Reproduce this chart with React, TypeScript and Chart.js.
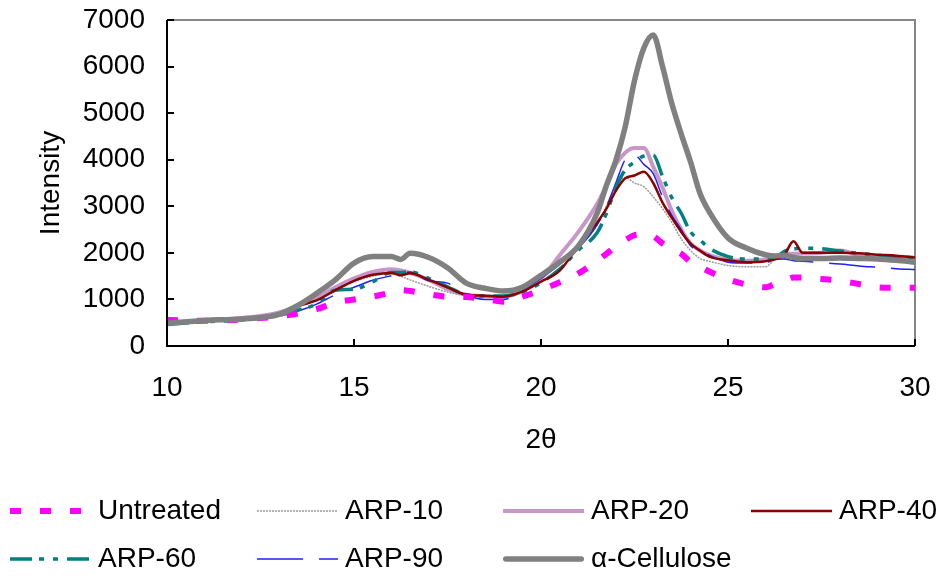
import React, { useEffect, useRef } from "react";
import { Chart, registerables } from "chart.js";

Chart.register(...registerables);

const twoTheta = [10, 11, 12, 13, 13.5, 14, 14.5, 15, 15.5, 16, 16.25, 16.5, 17, 17.5, 18, 18.5, 19, 19.5, 20, 20.5, 21, 21.5, 21.75, 22, 22.25, 22.5, 22.75, 23, 23.25, 23.5, 23.75, 24, 24.25, 24.5, 25, 25.5, 26, 26.25, 26.5, 26.75, 27, 27.5, 28, 28.5, 29, 29.5, 30];

const untreated = [560, 540, 570, 640, 700, 790, 930, 1000, 1060, 1150, 1200, 1180, 1110, 1060, 1050, 1010, 950, 1060, 1200, 1370, 1560, 1830, 1980, 2140, 2270, 2380, 2400, 2360, 2200, 2080, 1980, 1800, 1700, 1600, 1430, 1320, 1260, 1330, 1390, 1470, 1470, 1440, 1400, 1330, 1260, 1250, 1250];
const arp10 = [480, 540, 580, 690, 850, 980, 1180, 1380, 1500, 1560, 1500, 1420, 1280, 1160, 1080, 1060, 1050, 1150, 1380, 1650, 2100, 2600, 3000, 3400, 3620, 3500, 3420, 3200, 2950, 2650, 2300, 2050, 1880, 1820, 1730, 1700, 1700, 1850, 1880, 1880, 1900, 1900, 1920, 1920, 1900, 1890, 1880];
const arp20 = [480, 550, 600, 720, 870, 1030, 1260, 1450, 1590, 1650, 1620, 1570, 1420, 1220, 1100, 1070, 1060, 1180, 1450, 1950, 2450, 3050, 3450, 3900, 4150, 4250, 4250, 3850, 3400, 2900, 2500, 2200, 2050, 1950, 1850, 1830, 1860, 1900, 1980, 1980, 1990, 2000, 2050, 1950, 1900, 1900, 1900];
const arp40 = [480, 540, 580, 700, 860, 980, 1200, 1400, 1530, 1570, 1520, 1560, 1420, 1260, 1100, 1080, 1060, 1170, 1380, 1620, 2150, 2650, 2950, 3330, 3600, 3660, 3740, 3500, 3080, 2750, 2450, 2200, 2050, 1920, 1840, 1800, 1820, 1860, 1950, 2250, 2000, 2000, 2000, 1990, 1960, 1940, 1900];
const arp60 = [460, 520, 560, 660, 770, 900, 1200, 1220, 1380, 1580, 1580, 1590, 1450, 1270, 1100, 1075, 1075, 1160, 1360, 1650, 2060, 2430, 2850, 3400, 3780, 3950, 4080, 4100, 3640, 3180, 2850, 2450, 2280, 2100, 1920, 1870, 1870, 1890, 2030, 2080, 2100, 2090, 2040, 1990, 1950, 1900, 1880];
const arp90 = [470, 520, 560, 650, 750, 900, 1100, 1260, 1410, 1510, 1550, 1590, 1400, 1350, 1100, 1000, 1000, 1180, 1450, 1750, 2100, 2600, 3000, 3500, 4000, 4100, 3900, 3700, 3200, 2800, 2500, 2150, 2050, 1950, 1800, 1780, 1780, 1860, 1870, 1830, 1820, 1790, 1760, 1720, 1690, 1660, 1640];
const cellulose = [490, 550, 580, 680, 870, 1130, 1420, 1780, 1920, 1920, 1860, 1990, 1900, 1680, 1350, 1240, 1180, 1260, 1520, 1800, 2150, 2850, 3450, 3980, 4700, 5700, 6400, 6680, 6000, 5200, 4550, 3950, 3280, 2880, 2320, 2100, 1960, 1930, 1950, 1900, 1880, 1880, 1890, 1880, 1870, 1840, 1800];

const seriesLabels = ["Untreated", "ARP-10", "ARP-20", "ARP-40", "ARP-60", "ARP-90", "\u03b1-Cellulose"];
const seriesValues = [untreated, arp10, arp20, arp40, arp60, arp90, cellulose];

const FONT = "'Liberation Sans', Arial, sans-serif";

const seriesStyles = [
  { color: "#FF00FF", width: 6, dash: [11, 19], cap: "butt", order: 1 },
  { color: "#9a9a9a", width: 1.5, dash: [2, 1], cap: "butt", order: 5 },
  { color: "#C896C8", width: 4, dash: [], cap: "butt", order: 6 },
  { color: "#8B0000", width: 2.5, dash: [], cap: "butt", order: 2 },
  { color: "#008080", width: 3.5, dash: [22, 7, 5, 9, 5, 9], cap: "butt", order: 3 },
  { color: "#1F1FFF", width: 1.5, dash: [46, 16], cap: "butt", order: 4 },
  { color: "#808080", width: 5.5, dash: [], cap: "round", order: 0 },
];

// legend: 4 equal columns, 2 rows
const legendCols = [10, 257, 503, 751];
const legendRows = [511, 559];

const frameTicksPlugin = {
  id: "frameTicks",
  beforeDatasetsDraw(chart: any) {
    const { ctx, chartArea: a } = chart;
    ctx.save();
    ctx.strokeStyle = "#868686";
    ctx.lineWidth = 2;
    ctx.beginPath();
    ctx.moveTo(a.left, a.top);
    ctx.lineTo(a.right, a.top);
    ctx.lineTo(a.right, a.bottom);
    ctx.stroke();
    ctx.restore();
  },
  afterDraw(chart: any) {
    const { ctx, chartArea: a, scales } = chart;
    ctx.save();
    ctx.strokeStyle = "#000";
    ctx.lineWidth = 2;
    ctx.beginPath();
    ctx.moveTo(a.left, a.top);
    ctx.lineTo(a.left, a.bottom);
    ctx.lineTo(a.right, a.bottom);
    ctx.stroke();
    ctx.beginPath();
    scales.y.ticks.forEach((t: any) => {
      const py = Math.round(scales.y.getPixelForValue(t.value));
      ctx.moveTo(a.left, py);
      ctx.lineTo(a.left + 7, py);
    });
    scales.x.ticks.forEach((t: any) => {
      const px = Math.round(scales.x.getPixelForValue(t.value));
      ctx.moveTo(px, a.bottom);
      ctx.lineTo(px, a.bottom - 7);
    });
    ctx.stroke();

    const sampleLen = 81;
    chart.data.datasets.forEach((ds: any, i: number) => {
      const lx = legendCols[i % 4];
      const ly = legendRows[Math.floor(i / 4)];
      ctx.save();
      ctx.strokeStyle = ds.borderColor;
      ctx.lineWidth = ds.borderWidth;
      ctx.setLineDash(ds.borderDash || []);
      ctx.lineCap = ds.borderCapStyle || "butt";
      const inset = ds.borderCapStyle === "round" ? ds.borderWidth / 2 : 0;
      ctx.beginPath();
      ctx.moveTo(lx + inset, ly);
      ctx.lineTo(lx + sampleLen - inset, ly);
      ctx.stroke();
      ctx.setLineDash([]);
      ctx.fillStyle = "#000";
      ctx.font = `28px ${FONT}`;
      ctx.textBaseline = "middle";
      ctx.textAlign = "left";
      ctx.fillText(ds.label, lx + 88, ly);
      ctx.restore();
    });
    ctx.restore();
  },
};

export default function App() {
  const canvasRef = useRef<HTMLCanvasElement | null>(null);

  useEffect(() => {
    const canvas = canvasRef.current;
    if (!canvas) return;
    const datasets = seriesLabels.map((label, i) => ({
      label,
      data: twoTheta.map((x, j) => ({ x, y: seriesValues[i][j] })),
      borderColor: seriesStyles[i].color,
      backgroundColor: seriesStyles[i].color,
      borderWidth: seriesStyles[i].width,
      borderDash: seriesStyles[i].dash,
      borderCapStyle: seriesStyles[i].cap,
      borderJoinStyle: "round",
      pointRadius: 0,
      fill: false,
      cubicInterpolationMode: "monotone",
      order: seriesStyles[i].order,
    }));

    const chart = new Chart(canvas, {
      type: "line",
      data: { datasets } as any,
      options: {
        animation: false,
        responsive: false,
        devicePixelRatio: 1,
        layout: { padding: { top: 20, right: 33, bottom: 121, left: 0 } },
        plugins: {
          legend: { display: false },
          tooltip: { enabled: false },
        },
        scales: {
          x: {
            type: "linear",
            min: 10,
            max: 30,
            ticks: {
              stepSize: 5,
              color: "#000",
              padding: 25,
              font: { family: FONT, size: 28 },
              callback: (v: any) => String(v),
            },
            grid: { display: false, drawTicks: false },
            border: { display: false },
            title: {
              display: true,
              text: "2\u03b8",
              color: "#000",
              font: { family: FONT, size: 28 },
              padding: { top: 0, bottom: 0 },
            },
            afterFit: (scale: any) => {
              scale.height = 111;
              scale.paddingLeft = 0;
              scale.paddingRight = 0;
            },
          },
          y: {
            type: "linear",
            min: 0,
            max: 7000,
            ticks: {
              stepSize: 1000,
              color: "#000",
              padding: 22,
              font: { family: FONT, size: 28 },
              callback: (v: any) => String(v),
            },
            grid: { display: false, drawTicks: false },
            border: { display: false },
            title: {
              display: true,
              text: "Intensity",
              color: "#000",
              font: { family: FONT, size: 28 },
              padding: { top: 34, bottom: 0 },
            },
            afterFit: (scale: any) => {
              scale.width = 167;
              scale.paddingTop = 0;
              scale.paddingBottom = 0;
            },
          },
        },
      } as any,
      plugins: [frameTicksPlugin],
    });
    return () => chart.destroy();
  }, []);

  return (
    <div style={{ position: "absolute", left: 0, top: 0, width: 948, height: 578, background: "#fff" }}>
      <canvas ref={canvasRef} width={948} height={578} style={{ display: "block", width: 948, height: 578 }} />
    </div>
  );
}
